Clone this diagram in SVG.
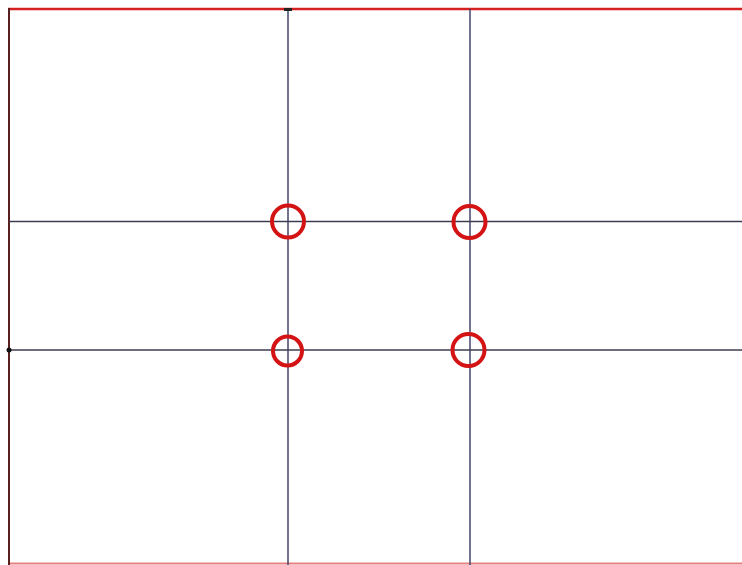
<svg xmlns="http://www.w3.org/2000/svg" width="742" height="565" viewBox="0 0 742 565">
<style>
.grid{stroke:#3c3c50;stroke-width:1.5;fill:none}
.vgrid{stroke:#44446a;stroke-width:1.5;fill:none}
.pt{fill:none;stroke:#d41414;stroke-width:4}
.frame{stroke:#d42020;stroke-width:2.5;fill:none}
</style>
<rect width="742" height="565" fill="#ffffff"/>
<g id="frame">
<line class="frame" x1="8" y1="9" x2="742" y2="9"/>
<line class="frame" x1="8" y1="563.5" x2="742" y2="563.5" style="stroke:#e88080;stroke-width:2"/>
<line x1="9" y1="8" x2="9" y2="565" stroke="#5a2020" stroke-width="2"/>
</g>
<g id="connectors">
<line class="vgrid" x1="288" y1="9" x2="288" y2="565"/>
<line class="vgrid" x1="470" y1="9" x2="470" y2="565"/>
<line class="grid" x1="9" y1="221.5" x2="742" y2="221.5"/>
<line class="grid" x1="9" y1="350" x2="742" y2="350"/>
<circle cx="9" cy="350" r="2.5" fill="#111"/>
<rect x="284" y="8" width="8" height="3" fill="#222"/>
</g>
<g id="p1"><circle class="pt" cx="288" cy="221.5" r="16"/></g>
<g id="p2"><circle class="pt" cx="469.5" cy="222" r="16"/></g>
<g id="p3"><circle class="pt" cx="287.5" cy="351" r="14.5"/></g>
<g id="p4"><circle class="pt" cx="468.5" cy="350" r="16"/></g>
</svg>
